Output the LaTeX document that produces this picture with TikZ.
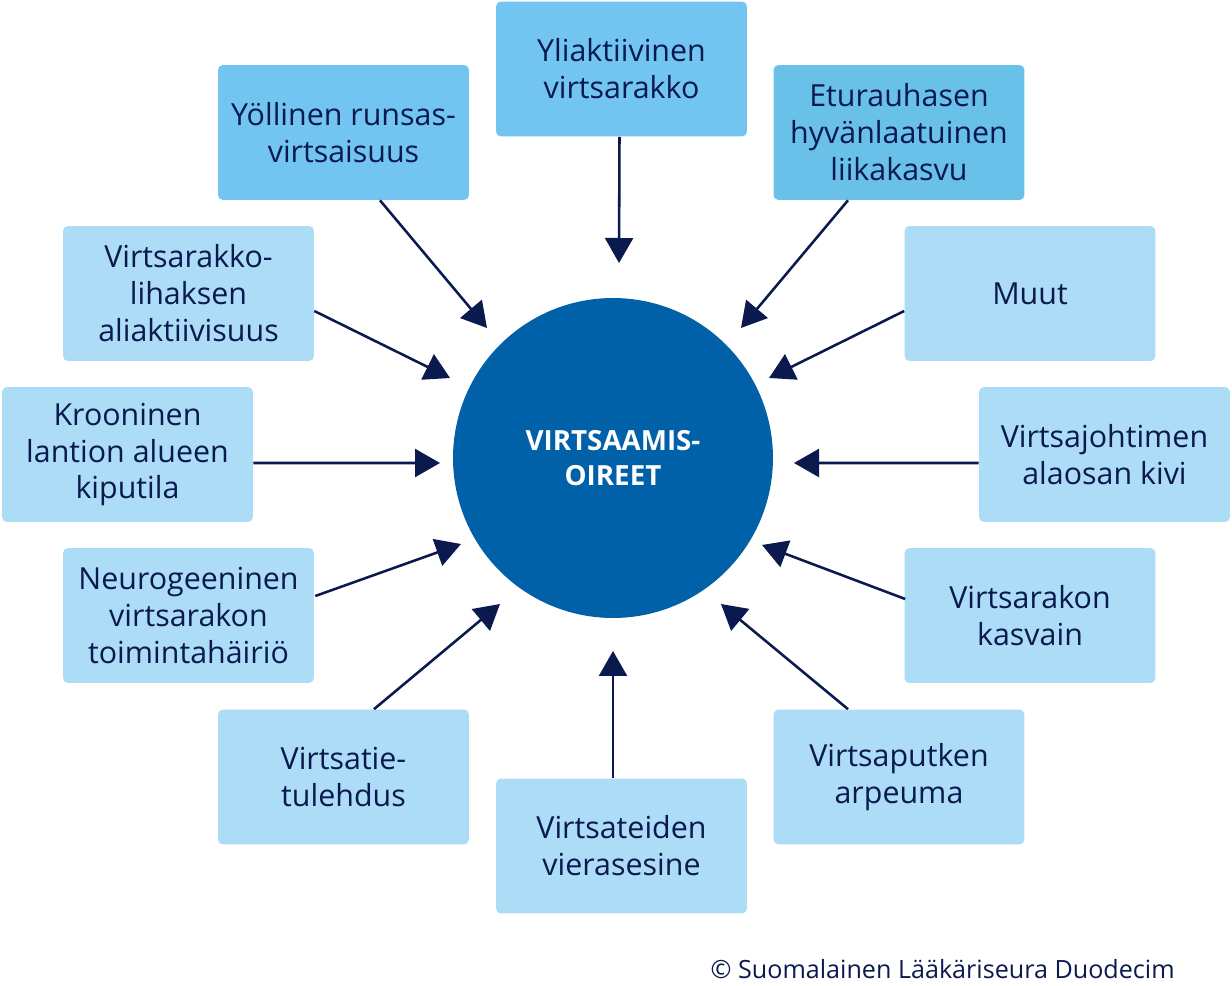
\documentclass[tikz,border=0pt]{standalone}
\usepackage{fontspec}
\setmainfont{Open Sans}
\usetikzlibrary{arrows.meta}

\definecolor{navy}{HTML}{0B1A4E}
\definecolor{dark}{HTML}{0061A9}
\definecolor{mid}{HTML}{71C5F0}
\definecolor{midb}{HTML}{69C1EA}
\definecolor{pale}{HTML}{ADDCF7}

\tikzset{
  box/.style = {fill = pale, rounded corners = 0.1cm, minimum width = 5.02cm,
    minimum height = 2.7cm, align = center, text = navy,
    font = \fontsize{17.3}{21}\selectfont},
  arr/.style = {-{Triangle[length = 0.5cm, width = 0.56cm]}, draw = navy,
    line width = 1.45pt}
}

\begin{document}
\begin{tikzpicture}[x = 0.02cm, y = -0.02cm]
\useasboundingbox[fill = white] (0,0) rectangle (1232,986);

\node[circle, fill = dark, minimum size = 6.4cm, text = white, align = center,
  font = \bfseries\fontsize{15.8}{19.5}\selectfont] (oir) at (613,458) {VIRTSAAMIS-\\OIREET};

\node[box, fill = mid] (yli) at (621.5,69) {Yliaktiivinen\\virtsarakko};
\node[box, fill = mid] (yol) at (343.5,132.5) {Yöllinen runsas-\\virtsaisuus};
\node[box, fill = midb] (etu) at (899,132.5) {Eturauhasen\\hyvänlaatuinen\\liikakasvu};
\node[box] (lih) at (188.5,293.5) {Virtsarakko-\\lihaksen\\aliaktiivisuus};
\node[box] (muu) at (1030,293.5) {Muut};
\node[box] (kro) at (127.5,454.5) {Krooninen\\lantion alueen\\kiputila};
\node[box] (joh) at (1104.5,454.5) {Virtsajohtimen\\alaosan kivi};
\node[box] (neu) at (188.5,615.5) {Neurogeeninen\\virtsarakon\\toimintahäiriö};
\node[box] (kas) at (1030,615.5) {Virtsarakon\\kasvain};
\node[box] (tul) at (343.5,777) {Virtsatie-\\tulehdus};
\node[box] (arp) at (899,777) {Virtsaputken\\arpeuma};
\node[box] (vie) at (621.5,846) {Virtsateiden\\vierasesine};

\foreach \b/\a/\dx/\dy/\tx/\ty in {
  yli/south/-2/0/619/263, yol/south/36.5/0/487/328, etu/south/-51/0/741/328,
  lih/east/0/17.5/450/378, muu/west/0/17.5/769/378, kro/east/0/8.5/440/463,
  joh/west/0/8.5/794/463, neu/east/1/-19.5/461/544, kas/west/1/-16.5/762/545,
  tul/north/30.5/0/500/604, arp/north/-51/0/721/604, vie/north/-8.5/0/613/651}
{
  \coordinate (tip-\b) at (\tx,\ty);
  \draw[arr] ([shift = {(\dx,\dy)}]\b.\a) -- (tip-\b);
}

\node[anchor = base east, inner sep = 0pt, text = navy,
  font = \fontsize{14.3}{17}\selectfont] (copy)
  at (1175,978) {© Suomalainen Lääkäriseura Duodecim};
\end{tikzpicture}
\end{document}
